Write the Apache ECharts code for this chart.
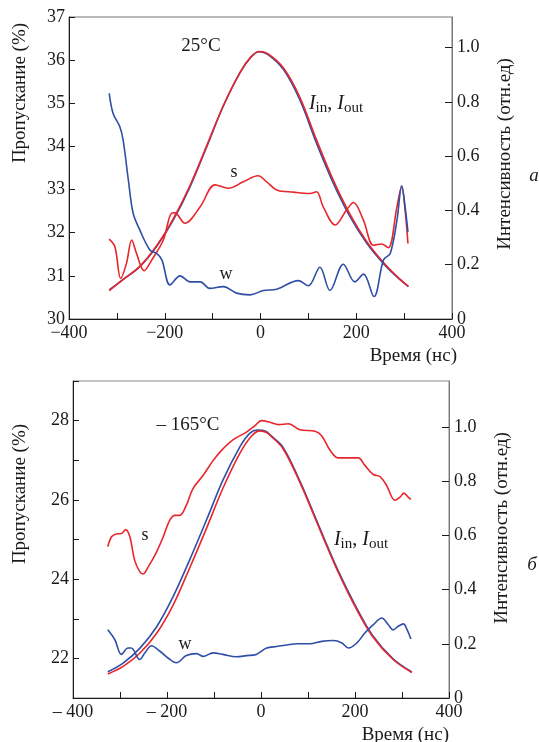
<!DOCTYPE html>
<html><head><meta charset="utf-8">
<script src="https://cdn.jsdelivr.net/npm/echarts@6/dist/echarts.min.js"></script>
<style>html,body{margin:0;padding:0;background:#fff}#c{width:539px;height:742px}</style>
</head><body><div id="c"></div>
<script>
// ---- tick labels ----
const timeLabels = [-400, -200, 0, 200, 400];
const topLeftLabels = [30, 31, 32, 33, 34, 35, 36, 37];
const botLeftLabels = [22, 24, 26, 28];
const rightLabels = [0, 0.2, 0.4, 0.6, 0.8, 1.0];

// ---- top panel (25°C) ----
const topS = [[-316,31.85],[-304,31.67],[-292,30.94],[-280,31.29],[-269,31.83],[-259,31.52],[-243,31.12],[-227,31.37],[-203,31.83],[-186,32.45],[-179,32.46],[-158,32.22],[-126,32.60],[-95,33.11],[-67,33.03],[-36,33.18],[-5,33.32],[13,33.18],[34,32.99],[69,32.94],[103,32.91],[117,32.95],[131,32.60],[156,32.18],[180,32.53],[194,32.70],[215,32.29],[236,31.71],[253,31.74],[267,31.65],[285,32.60],[295,33.07],[302,32.53],[308,31.75]];
const topW = [[-316,35.23],[-308,34.77],[-294,34.46],[-287,34.15],[-276,33.22],[-266,32.45],[-252,32.06],[-231,31.60],[-217,31.52],[-206,31.37],[-189,30.79],[-168,31.00],[-147,30.86],[-126,30.86],[-106,30.71],[-78,30.75],[-50,30.60],[-22,30.56],[6,30.66],[34,30.69],[79,30.89],[100,30.77],[124,31.20],[145,30.66],[173,31.27],[197,30.86],[215,31.04],[237,30.52],[257,31.37],[271,31.52],[285,32.29],[295,33.09],[302,32.60],[308,32.02]];
const topIin = [[-316,0.107],[-287,0.146],[-252,0.193],[-217,0.267],[-182,0.365],[-147,0.488],[-112,0.636],[-78,0.783],[-43,0.907],[-20,0.965],[-3,0.985],[15,0.975],[48,0.919],[82,0.808],[117,0.648],[152,0.501],[187,0.377],[222,0.279],[256,0.206],[285,0.155],[309,0.119]];
const topIout = [[-316,0.105],[-287,0.145],[-252,0.194],[-217,0.270],[-182,0.370],[-147,0.493],[-112,0.640],[-78,0.785],[-43,0.908],[-20,0.966],[-3,0.986],[15,0.978],[48,0.925],[82,0.818],[117,0.660],[152,0.512],[187,0.386],[222,0.285],[256,0.210],[285,0.157],[309,0.120]];

// ---- bottom panel (-165°C) ----
const botS = [[-326,24.82],[-318,25.07],[-308,25.14],[-297,25.15],[-288,25.25],[-279,25.07],[-269,24.48],[-258,24.19],[-251,24.13],[-240,24.31],[-222,24.69],[-208,25.07],[-194,25.49],[-183,25.61],[-173,25.61],[-159,25.86],[-145,26.28],[-123,26.62],[-102,26.99],[-84,27.25],[-59,27.52],[-31,27.71],[-13,27.87],[1,28.0],[19,27.96],[37,27.90],[58,27.92],[83,27.77],[115,27.73],[129,27.62],[147,27.25],[164,27.06],[189,27.06],[207,27.06],[221,26.87],[239,26.64],[253,26.59],[267,26.37],[285,25.99],[296,26.07],[304,26.17],[313,26.07],[319,26.01]];
const botW = [[-326,22.72],[-311,22.47],[-297,22.10],[-283,22.26],[-276,22.26],[-258,21.97],[-247,22.14],[-233,22.32],[-215,22.18],[-198,22.01],[-180,21.89],[-159,22.07],[-137,22.12],[-123,22.05],[-102,22.14],[-81,22.10],[-52,22.04],[-31,22.07],[-10,22.10],[12,22.26],[33,22.30],[61,22.35],[76,22.37],[104,22.37],[129,22.43],[154,22.45],[172,22.39],[186,22.26],[204,22.39],[221,22.64],[239,22.85],[257,23.02],[271,22.85],[281,22.72],[292,22.81],[303,22.87],[311,22.72],[319,22.49]];
const botIin = [[-326,0.097],[-294,0.128],[-258,0.183],[-222,0.263],[-187,0.374],[-152,0.509],[-116,0.657],[-81,0.804],[-45,0.927],[-24,0.977],[-6,0.989],[10,0.985],[20,0.970],[47,0.925],[83,0.800],[110,0.690],[134,0.590],[164,0.470],[200,0.344],[237,0.232],[281,0.145],[321,0.096]];
const botIout = [[-326,0.089],[-294,0.116],[-258,0.165],[-222,0.239],[-187,0.343],[-152,0.479],[-116,0.626],[-81,0.774],[-45,0.903],[-20,0.967],[-2,0.986],[12,0.980],[22,0.965],[47,0.920],[83,0.795],[110,0.685],[134,0.585],[164,0.465],[200,0.338],[237,0.228],[281,0.142],[321,0.094]];

const FONT = '"Liberation Serif","DejaVu Serif",serif';
const RED = '#e8262b', BLUE = '#2f4ea6', INK = '#1a1a1a';

function has(arr, v){ return arr.some(a => Math.abs(a - v) < 1e-6); }
function fmtXTop(v){ return has(timeLabels, v) ? (v < 0 ? '\u2212' + Math.abs(v) : String(v)) : ''; }
function fmtXBot(v){ return has(timeLabels, v) ? (v < 0 ? '\u2013 ' + Math.abs(v) : String(v)) : ''; }
function fmtR(v){ return has(rightLabels, v) ? (Math.abs(v) < 1e-6 ? '0' : v.toFixed(1)) : ''; }

const labelStyle = {color: INK, fontFamily: FONT, fontSize: 18};
function xAx(gi, fmt){
  return {type:'value', gridIndex:gi, min:-400, max:400, interval:100,
    axisLine:{onZero:false, lineStyle:{color:INK, width:1}},
    axisTick:{inside:true, length:6, lineStyle:{color:INK}},
    axisLabel:Object.assign({formatter:fmt, margin:5}, labelStyle),
    splitLine:{show:false}};
}
function yLeft(gi, min, max, labels){
  return {type:'value', gridIndex:gi, position:'left', min:min, max:max, interval:1,
    axisLine:{show:true, onZero:false, lineStyle:{color:INK, width:1}},
    axisTick:{inside:true, length:6, lineStyle:{color:INK}},
    axisLabel:Object.assign({formatter: v => has(labels, v) ? String(v) : '', margin:4}, labelStyle),
    splitLine:{show:false}};
}
function yRight(gi, max){
  return {type:'value', gridIndex:gi, position:'right', min:0, max:max, interval:0.2,
    axisLine:{show:true, onZero:false, lineStyle:{color:'#777', width:1}},
    axisTick:{inside:true, length:7, lineStyle:{color:INK}},
    axisLabel:Object.assign({formatter: fmtR, margin:5, showMaxLabel:false}, labelStyle),
    splitLine:{show:false}};
}
function line(data, color, xi, yi, z){
  return {type:'line', data:data, xAxisIndex:xi, yAxisIndex:yi, smooth:0.35, showSymbol:false, symbol:'none',
    lineStyle:{color:color, width:1.6}, z:z||2, animation:false};
}
function txt(x, y, s, size, opts){
  return Object.assign({type:'text', x:x, y:y, silent:true,
    style:{text:s, font:(opts && opts.italic ? 'italic ' : '') + size + 'px ' + FONT, fill:INK, textAlign:(opts && opts.align) || 'center', textVerticalAlign:'middle'}}, opts && opts.rot ? {rotation:Math.PI/2} : {});
}
function iio(x, y){
  return {type:'text', x:x, y:y, silent:true, style:{
    text:'{i|I}{s|in}{n|, }{i|I}{s|out}', textAlign:'center', textVerticalAlign:'middle',
    rich:{i:{fontFamily:FONT, fontStyle:'italic', fontSize:20, lineHeight:24, fill:INK, verticalAlign:'middle'},
          s:{fontFamily:FONT, fontSize:15, lineHeight:15, fill:INK, verticalAlign:'bottom'},
          n:{fontFamily:FONT, fontSize:20, lineHeight:24, fill:INK, verticalAlign:'middle'}}}};
}

const chart = echarts.init(document.getElementById('c'), null, {renderer:'canvas'});
chart.setOption({
  animation:false,
  backgroundColor:'#fff',
  grid:[
    {left:69, top:17, width:383, height:302, show:true, borderColor:'#777', borderWidth:1},
    {left:73, top:381, width:376, height:317, show:true, borderColor:'#888', borderWidth:1}
  ],
  xAxis:[xAx(0, fmtXTop), xAx(1, fmtXBot)],
  yAxis:[yLeft(0, 30, 37, topLeftLabels), yRight(0, 1.113), yLeft(1, 21, 29, botLeftLabels), yRight(1, 1.17)],
  series:[
    line(topIin, BLUE, 0, 1, 2), line(topIout, RED, 0, 1, 3),
    line(topS, RED, 0, 0, 4), line(topW, BLUE, 0, 0, 5),
    line(botIin, BLUE, 1, 3, 2), line(botIout, RED, 1, 3, 3),
    line(botS, RED, 1, 2, 4), line(botW, BLUE, 1, 2, 5)
  ],
  graphic:[
    txt(20, 93, 'Пропускание (%)', 19, {rot:true}),
    txt(505, 154, 'Интенсивность (отн.ед)', 19, {rot:true}),
    txt(457, 356, 'Время (нс)', 19, {align:'right'}),
    txt(201, 46, '25°C', 19),
    iio(336, 104),
    txt(234, 172, 's', 18),
    txt(226, 274, 'w', 18),
    txt(534, 176, 'a', 19, {italic:true}),
    txt(20, 494, 'Пропускание (%)', 19, {rot:true}),
    txt(502, 528, 'Интенсивность (отн.ед)', 19, {rot:true}),
    txt(449, 735, 'Время (нс)', 19, {align:'right'}),
    txt(188, 425, '\u2013 165°C', 19),
    iio(361, 540),
    txt(145, 535, 's', 18),
    txt(185, 644, 'w', 18),
    txt(532, 565, 'б', 19, {italic:true})
  ]
});
</script></body></html>
